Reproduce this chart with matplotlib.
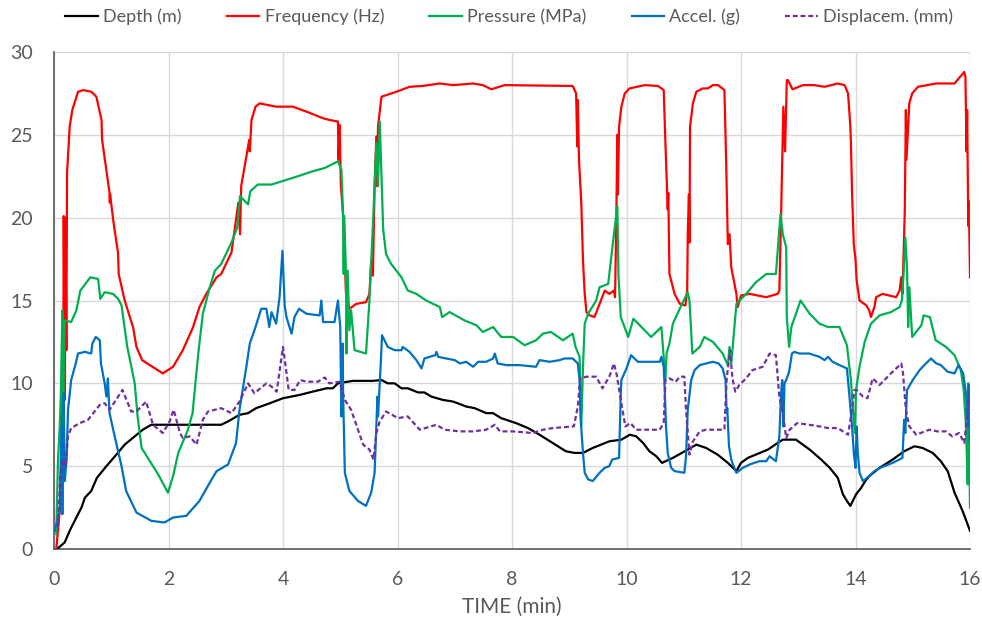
"""Drilling run chart: depth, frequency, pressure, acceleration and displacement vs time."""

import matplotlib
matplotlib.use("Agg")
import matplotlib.pyplot as plt

FONT_FAMILY = ["Lato", "DejaVu Sans"]
TEXT_GREY = "#595959"
GRID_GREY = "#D9D9D9"
LINE_WIDTH = 1.6

# (time in min, value)
depth = [(0.053, 0.0), (0.187, 0.4), (0.274, 1.1), (0.39, 1.9), (0.48, 2.5), (0.54, 3.1), (0.65, 3.5),
         (0.75, 4.3), (0.915, 5.0), (1.09, 5.7), (1.235, 6.3), (1.41, 6.8), (1.55, 7.2), (1.70, 7.5),
         (2.08, 7.5), (2.92, 7.5), (3.04, 7.7), (3.24, 8.1), (3.39, 8.2), (3.53, 8.5), (3.77, 8.8),
         (4.00, 9.1), (4.29, 9.3), (4.52, 9.5), (4.76, 9.7), (4.87, 9.7), (4.96, 10.0), (5.22, 10.15),
         (5.57, 10.15), (5.72, 10.2), (5.83, 10.0), (5.95, 10.0), (6.07, 9.7), (6.18, 9.7), (6.36, 9.45),
         (6.47, 9.45), (6.59, 9.2), (6.79, 9.0), (6.97, 8.9), (7.20, 8.6), (7.35, 8.5), (7.55, 8.2),
         (7.67, 8.2), (7.81, 7.9), (8.07, 7.6), (8.28, 7.3), (8.48, 6.9), (8.71, 6.4), (8.94, 5.9),
         (9.09, 5.8), (9.24, 5.8), (9.41, 6.1), (9.70, 6.5), (9.91, 6.6), (10.06, 6.9), (10.17, 6.8),
         (10.29, 6.4), (10.40, 5.9), (10.52, 5.6), (10.62, 5.2), (10.81, 5.5), (11.07, 6.0), (11.22, 6.3),
         (11.39, 6.1), (11.59, 5.7), (11.77, 5.2), (11.92, 4.7), (12.0, 5.2), (12.12, 5.5), (12.26, 5.7),
         (12.47, 6.0), (12.64, 6.4), (12.73, 6.6), (12.96, 6.6), (13.20, 6.0), (13.40, 5.4), (13.55, 4.9),
         (13.69, 4.3), (13.78, 3.3), (13.85, 2.9), (13.91, 2.6), (14.01, 3.3), (14.10, 3.7), (14.17, 4.1),
         (14.24, 4.4), (14.42, 4.9), (14.65, 5.4), (14.85, 5.9), (15.03, 6.2), (15.17, 6.1), (15.35, 5.8),
         (15.49, 5.3), (15.61, 4.7), (15.73, 3.4), (15.87, 2.3), (16.0, 1.1)]

frequency = [(0.04, 0.0), (0.10, 2.3), (0.13, 5.5), (0.15, 12.0), (0.16, 7.0), (0.17, 20.1), (0.19, 9.0),
             (0.20, 20.0), (0.216, 12.0), (0.228, 22.7), (0.274, 25.5), (0.32, 26.5), (0.42, 27.6),
             (0.507, 27.7), (0.652, 27.6), (0.74, 27.3), (0.83, 25.9), (0.84, 24.7), (0.97, 21.5),
             (0.975, 20.9), (0.98, 21.4), (1.04, 19.7), (1.118, 17.9), (1.13, 16.6), (1.235, 15.0),
             (1.38, 13.4), (1.44, 12.2), (1.54, 11.4), (1.90, 10.6), (2.08, 11.0), (2.25, 12.0),
             (2.43, 13.4), (2.54, 14.6), (2.66, 15.4), (2.84, 16.4), (2.92, 16.6), (3.10, 17.9),
             (3.18, 19.9), (3.22, 20.9), (3.25, 19.0), (3.27, 21.9), (3.31, 22.7), (3.41, 24.7),
             (3.42, 24.0), (3.45, 25.9), (3.52, 26.7), (3.59, 26.9), (3.88, 26.7), (4.17, 26.7),
             (4.41, 26.4), (4.70, 26.0), (4.81, 25.9), (4.96, 25.8), (4.97, 23.5), (4.99, 25.6),
             (5.01, 22.0), (5.05, 20.1), (5.08, 17.4), (5.10, 15.4), (5.16, 14.5), (5.28, 14.8),
             (5.45, 14.9), (5.51, 15.4), (5.54, 17.4), (5.57, 16.5), (5.60, 21.9), (5.63, 24.9),
             (5.64, 21.9), (5.66, 25.5), (5.72, 27.3), (5.98, 27.6), (6.21, 27.9), (6.44, 27.95),
             (6.74, 28.1), (6.97, 28.0), (7.32, 28.1), (7.49, 28.0), (7.64, 27.75), (7.87, 28.0),
             (9.06, 27.95), (9.12, 27.5), (9.14, 24.3), (9.15, 27.1), (9.17, 23.5), (9.21, 20.9),
             (9.24, 17.4), (9.27, 15.4), (9.30, 14.3), (9.36, 14.1), (9.44, 14.0), (9.53, 14.8),
             (9.62, 15.6), (9.70, 15.4), (9.78, 15.6), (9.80, 15.2), (9.82, 19.5), (9.84, 25.0),
             (9.85, 21.4), (9.87, 25.5), (9.91, 26.7), (9.97, 27.5), (10.05, 27.8), (10.32, 28.0),
             (10.55, 27.95), (10.65, 27.7), (10.68, 24.5), (10.72, 20.5), (10.73, 21.5), (10.75, 16.6),
             (10.84, 15.4), (10.93, 14.8), (11.03, 14.7), (11.06, 15.6), (11.07, 19.0), (11.09, 21.4),
             (11.10, 18.5), (11.11, 25.5), (11.16, 26.9), (11.22, 27.6), (11.33, 27.8), (11.42, 27.8),
             (11.51, 28.0), (11.60, 28.0), (11.71, 27.7), (11.74, 23.5), (11.77, 18.4), (11.80, 19.0),
             (11.83, 17.0), (11.92, 15.4), (11.94, 14.6), (12.0, 15.3), (12.15, 15.4), (12.44, 15.2),
             (12.64, 15.4), (12.67, 15.6), (12.70, 20.1), (12.72, 23.5), (12.74, 26.7), (12.77, 24.0),
             (12.80, 28.3), (12.82, 28.3), (12.90, 27.75), (13.08, 28.0), (13.28, 28.0), (13.46, 27.9),
             (13.69, 28.1), (13.81, 28.0), (13.87, 27.5), (13.91, 25.5), (13.92, 24.5), (13.94, 21.5),
             (13.97, 18.4), (14.0, 17.5), (14.02, 16.2), (14.07, 15.0), (14.19, 14.7), (14.24, 14.4),
             (14.27, 14.0), (14.33, 14.6), (14.36, 15.2), (14.47, 15.4), (14.71, 15.2), (14.77, 15.6),
             (14.80, 16.4), (14.82, 15.4), (14.86, 20.3), (14.88, 26.5), (14.89, 23.5), (14.94, 26.9),
             (14.99, 27.5), (15.09, 27.9), (15.41, 28.1), (15.73, 28.1), (15.90, 28.8), (15.92, 28.5),
             (15.94, 24.0), (15.95, 26.5), (15.97, 19.5), (15.98, 21.0), (16.0, 16.4)]

pressure = [(0.04, 0.9), (0.07, 5.4), (0.10, 7.4), (0.12, 9.4), (0.146, 14.4), (0.16, 5.5), (0.17, 11.0),
            (0.187, 13.8), (0.30, 13.7), (0.39, 14.4), (0.46, 15.6), (0.635, 16.4), (0.77, 16.3),
            (0.81, 15.1), (0.885, 15.5), (1.03, 15.4), (1.12, 15.1), (1.18, 14.7), (1.28, 12.2),
            (1.41, 10.0), (1.46, 8.0), (1.53, 6.1), (1.82, 4.5), (1.99, 3.4), (2.08, 4.4), (2.17, 5.8),
            (2.34, 7.2), (2.42, 8.2), (2.52, 11.8), (2.60, 14.2), (2.72, 15.8), (2.81, 16.8),
            (2.92, 17.2), (3.10, 18.5), (3.20, 19.4), (3.25, 21.3), (3.39, 20.8), (3.43, 21.6),
            (3.56, 22.0), (3.80, 22.0), (4.17, 22.4), (4.52, 22.8), (4.73, 23.0), (4.96, 23.4),
            (5.02, 22.9), (5.05, 20.1), (5.06, 16.6), (5.07, 20.1), (5.10, 16.6), (5.11, 11.8),
            (5.13, 16.8), (5.16, 13.2), (5.19, 14.4), (5.25, 12.0), (5.45, 11.8), (5.51, 15.0),
            (5.57, 19.5), (5.60, 21.9), (5.63, 24.5), (5.66, 21.9), (5.69, 25.8), (5.75, 19.3),
            (5.80, 17.8), (5.89, 17.2), (6.07, 16.4), (6.18, 15.6), (6.33, 15.4), (6.50, 15.0),
            (6.74, 14.6), (6.78, 14.0), (6.91, 14.3), (7.17, 13.8), (7.38, 13.5), (7.49, 13.1),
            (7.67, 13.4), (7.81, 12.8), (8.02, 12.8), (8.22, 12.3), (8.42, 12.6), (8.54, 13.0),
            (8.68, 13.1), (8.89, 12.6), (9.06, 13.0), (9.11, 12.2), (9.18, 11.6), (9.21, 7.4),
            (9.24, 11.0), (9.27, 13.6), (9.33, 14.2), (9.47, 15.0), (9.53, 15.8), (9.68, 16.0),
            (9.76, 18.4), (9.84, 20.7), (9.86, 16.5), (9.90, 14.0), (10.03, 12.8), (10.12, 13.9),
            (10.43, 12.8), (10.61, 13.4), (10.64, 12.0), (10.68, 10.2), (10.70, 11.8), (10.75, 12.4),
            (10.81, 13.6), (10.93, 14.5), (11.07, 15.5), (11.10, 15.0), (11.15, 11.8), (11.28, 12.2),
            (11.36, 12.8), (11.51, 12.5), (11.68, 11.8), (11.77, 11.1), (11.80, 12.2), (11.83, 11.2),
            (11.92, 14.8), (12.09, 15.4), (12.26, 16.1), (12.44, 16.6), (12.61, 16.6), (12.69, 20.2),
            (12.73, 19.0), (12.79, 18.2), (12.80, 14.0), (12.84, 12.2), (12.88, 13.4), (13.04, 15.0),
            (13.20, 14.2), (13.37, 13.6), (13.52, 13.4), (13.72, 13.4), (13.85, 12.3), (13.92, 10.2),
            (13.96, 8.2), (13.99, 7.0), (14.01, 9.6), (14.07, 11.0), (14.16, 12.5), (14.27, 13.6),
            (14.42, 14.1), (14.62, 14.3), (14.77, 14.6), (14.81, 15.0), (14.84, 16.6), (14.87, 18.8),
            (14.90, 17.0), (14.92, 13.4), (14.94, 15.8), (14.99, 12.8), (15.15, 13.5), (15.19, 14.1),
            (15.30, 14.0), (15.40, 12.6), (15.58, 12.2), (15.73, 11.7), (15.84, 10.8), (15.89, 9.6),
            (15.93, 7.4), (15.96, 3.9), (15.97, 10.0), (16.0, 2.5)]

accel = [(0.012, 1.1), (0.10, 2.3), (0.13, 7.4), (0.146, 2.1), (0.17, 9.4), (0.187, 4.1), (0.22, 5.4),
         (0.245, 8.4), (0.30, 10.2), (0.38, 11.2), (0.42, 11.8), (0.54, 11.9), (0.65, 11.8), (0.67, 12.4),
         (0.73, 12.8), (0.80, 12.6), (0.82, 11.2), (0.885, 10.0), (0.915, 9.2), (0.94, 10.3), (0.97, 8.2),
         (1.06, 6.8), (1.18, 5.0), (1.26, 3.5), (1.44, 2.2), (1.70, 1.7), (1.93, 1.6), (2.08, 1.9),
         (2.31, 2.0), (2.54, 2.9), (2.72, 4.0), (2.84, 4.7), (3.04, 5.1), (3.18, 6.4), (3.24, 8.4),
         (3.36, 11.0), (3.42, 12.4), (3.52, 13.4), (3.62, 14.5), (3.71, 14.5), (3.76, 13.4), (3.80, 14.3),
         (3.88, 13.6), (3.94, 15.2), (3.99, 18.0), (4.01, 16.4), (4.03, 14.7), (4.06, 14.0), (4.15, 13.0),
         (4.20, 14.0), (4.28, 14.5), (4.41, 14.2), (4.64, 14.1), (4.67, 15.0), (4.70, 13.7), (4.76, 13.7),
         (4.90, 13.7), (4.96, 15.0), (5.00, 13.4), (5.02, 8.0), (5.04, 12.4), (5.05, 9.4), (5.06, 7.8),
         (5.08, 4.6), (5.16, 3.5), (5.31, 2.9), (5.45, 2.6), (5.54, 3.4), (5.60, 4.6), (5.63, 7.4),
         (5.65, 9.2), (5.66, 8.0), (5.71, 11.4), (5.73, 12.9), (5.83, 12.2), (5.95, 12.0), (6.07, 12.0),
         (6.09, 12.2), (6.21, 11.9), (6.33, 11.4), (6.42, 10.9), (6.47, 11.5), (6.56, 11.6), (6.66, 11.7),
         (6.68, 11.9), (6.71, 11.6), (6.85, 11.5), (7.0, 11.4), (7.09, 11.2), (7.20, 11.3), (7.32, 11.0),
         (7.41, 11.3), (7.55, 11.3), (7.67, 11.5), (7.70, 11.8), (7.75, 11.2), (7.90, 11.1), (8.13, 11.1),
         (8.42, 11.0), (8.48, 11.4), (8.66, 11.3), (8.83, 11.4), (8.92, 11.5), (9.06, 11.5), (9.15, 11.2),
         (9.18, 10.2), (9.20, 7.8), (9.22, 6.8), (9.24, 5.8), (9.27, 4.6), (9.33, 4.2), (9.41, 4.1),
         (9.53, 4.6), (9.62, 4.9), (9.70, 5.0), (9.75, 5.4), (9.87, 5.5), (9.90, 9.4), (9.91, 10.2),
         (10.0, 10.9), (10.08, 11.7), (10.20, 11.3), (10.58, 11.3), (10.61, 11.6), (10.65, 11.0),
         (10.67, 9.4), (10.69, 7.4), (10.72, 5.8), (10.78, 4.9), (10.84, 4.7), (11.01, 4.6), (11.04, 5.6),
         (11.07, 8.4), (11.13, 10.2), (11.19, 10.8), (11.28, 11.1), (11.39, 11.2), (11.51, 11.3),
         (11.61, 11.2), (11.68, 10.9), (11.73, 10.2), (11.75, 8.2), (11.76, 8.5), (11.79, 6.2),
         (11.83, 5.4), (11.87, 5.0), (11.92, 4.6), (12.03, 4.9), (12.15, 5.1), (12.32, 5.3), (12.44, 5.3),
         (12.50, 5.6), (12.61, 5.3), (12.67, 6.8), (12.70, 9.4), (12.72, 10.2), (12.74, 7.4), (12.76, 10.0),
         (12.79, 10.2), (12.84, 10.7), (12.89, 11.8), (12.93, 11.9), (13.02, 11.8), (13.19, 11.8),
         (13.37, 11.6), (13.46, 11.4), (13.52, 11.6), (13.60, 11.3), (13.72, 11.1), (13.85, 10.9),
         (13.89, 9.4), (13.94, 7.4), (13.97, 5.8), (14.0, 4.9), (14.02, 7.4), (14.04, 5.8), (14.07, 4.6),
         (14.13, 4.1), (14.24, 4.4), (14.33, 4.7), (14.43, 4.9), (14.65, 5.2), (14.82, 5.5), (14.85, 7.8),
         (14.87, 7.0), (14.90, 9.6), (15.0, 10.2), (15.12, 10.8), (15.23, 11.2), (15.32, 11.5),
         (15.41, 11.2), (15.49, 11.1), (15.61, 10.7), (15.73, 10.6), (15.80, 11.1), (15.88, 10.6),
         (15.93, 9.4), (15.96, 7.4), (15.98, 9.9), (16.0, 6.4)]

displacement = [(0.07, 1.3), (0.11, 4.4), (0.158, 5.4), (0.20, 5.0), (0.245, 6.8), (0.30, 7.3), (0.45, 7.6),
                (0.595, 7.8), (0.80, 8.7), (0.885, 8.8), (0.97, 8.4), (1.195, 9.6), (1.35, 8.3), (1.44, 8.3),
                (1.61, 8.9), (1.73, 7.5), (1.90, 7.0), (2.02, 7.7), (2.09, 8.4), (2.20, 7.0), (2.25, 6.7),
                (2.37, 6.8), (2.49, 6.3), (2.60, 7.8), (2.69, 8.3), (2.92, 8.5), (3.10, 8.2), (3.24, 8.9),
                (3.39, 10.0), (3.50, 9.4), (3.71, 10.0), (3.80, 9.8), (3.89, 9.5), (4.00, 12.2), (4.10, 9.6),
                (4.20, 9.6), (4.30, 10.2), (4.41, 10.1), (4.61, 10.1), (4.73, 10.35), (4.81, 10.0),
                (4.99, 10.1), (5.08, 9.0), (5.19, 8.4), (5.31, 7.2), (5.40, 6.3), (5.51, 6.0), (5.58, 5.4),
                (5.63, 7.0), (5.69, 7.7), (5.80, 8.3), (6.01, 7.9), (6.18, 8.0), (6.39, 7.2), (6.68, 7.5),
                (6.82, 7.2), (7.09, 7.1), (7.32, 7.1), (7.55, 7.2), (7.70, 7.5), (7.79, 7.1), (8.02, 7.1),
                (8.36, 7.0), (8.54, 7.2), (8.71, 7.3), (9.08, 7.4), (9.15, 8.6), (9.19, 10.3), (9.30, 10.4),
                (9.47, 10.4), (9.58, 9.7), (9.70, 10.4), (9.78, 11.2), (9.83, 10.5), (9.91, 8.8), (9.98, 7.4),
                (10.07, 7.6), (10.17, 7.2), (10.58, 7.2), (10.65, 7.6), (10.68, 10.2), (10.75, 10.3),
                (10.86, 10.1), (10.93, 10.4), (11.01, 10.4), (11.04, 8.4), (11.10, 5.7), (11.16, 6.5),
                (11.28, 7.1), (11.39, 7.2), (11.71, 7.2), (11.75, 10.3), (11.81, 12.0), (11.85, 10.3),
                (11.90, 9.5), (11.97, 9.9), (12.09, 10.3), (12.20, 10.8), (12.38, 11.0), (12.50, 11.8),
                (12.61, 11.7), (12.67, 9.2), (12.73, 8.2), (12.79, 6.7), (12.85, 7.2), (12.98, 7.6),
                (13.19, 7.5), (13.37, 7.4), (13.52, 7.3), (13.69, 7.3), (13.87, 6.9), (13.93, 8.2),
                (13.98, 9.6), (14.02, 9.6), (14.13, 9.2), (14.21, 9.1), (14.30, 10.3), (14.42, 9.9),
                (14.62, 10.6), (14.80, 11.2), (14.83, 10.6), (14.88, 8.4), (14.94, 7.4), (15.06, 6.9),
                (15.29, 7.2), (15.43, 7.1), (15.58, 7.1), (15.69, 6.8), (15.81, 7.0), (15.90, 6.4),
                (15.96, 8.4), (16.0, 9.6)]

series_labels = ["Depth (m)", "Frequency (Hz)", "Pressure (MPa)", "Accel. (g)", "Displacem. (mm)"]
series_colors = ["#000000", "#FF0000", "#00B050", "#0070C0", "#7030A0"]
x_ticks = [0, 2, 4, 6, 8, 10, 12, 14, 16]
y_ticks = [0, 5, 10, 15, 20, 25, 30]


def unzip(points):
    return [p[0] for p in points], [p[1] for p in points]


plt.rcParams["font.family"] = FONT_FAMILY

fig = plt.figure(figsize=(9.82, 6.19), dpi=100, facecolor="white")
ax = fig.add_axes([54 / 982, 1 - 549 / 619, 916 / 982, 497 / 619])

all_series = [depth, frequency, pressure, accel, displacement]
for i, (points, label, color) in enumerate(zip(all_series, series_labels, series_colors)):
    t, v = unzip(points)
    style = (0, (2.2, 1.3)) if label.startswith("Displacem") else "-"
    ax.plot(t, v, color=color, lw=LINE_WIDTH, ls=style, label=label,
            solid_joinstyle="round", zorder=3 + i)

ax.set_xlim(0, 16)
ax.set_ylim(0, 30)
ax.set_xticks(x_ticks)
ax.set_yticks(y_ticks)
ax.grid(True, color=GRID_GREY, lw=1.0, zorder=0)
ax.set_axisbelow(True)

for side in ("top", "right"):
    ax.spines[side].set_visible(False)
for side in ("left", "bottom"):
    ax.spines[side].set_color("#595959")
    ax.spines[side].set_linewidth(1.2)

ax.tick_params(axis="both", length=0, labelsize=14, colors=TEXT_GREY)
ax.tick_params(axis="x", pad=16)
ax.tick_params(axis="y", pad=15)
ax.set_xlabel("TIME (min)", fontsize=15, color=TEXT_GREY, labelpad=6)

ax.legend(loc="center", bbox_to_anchor=(0.497, 1.07), ncol=5, frameon=False,
          fontsize=13, handlelength=1.8, handletextpad=0.3, columnspacing=2.5,
          labelcolor=TEXT_GREY, borderaxespad=0.0, borderpad=0.0)

fig.savefig("out.png", dpi=100, facecolor="white")
